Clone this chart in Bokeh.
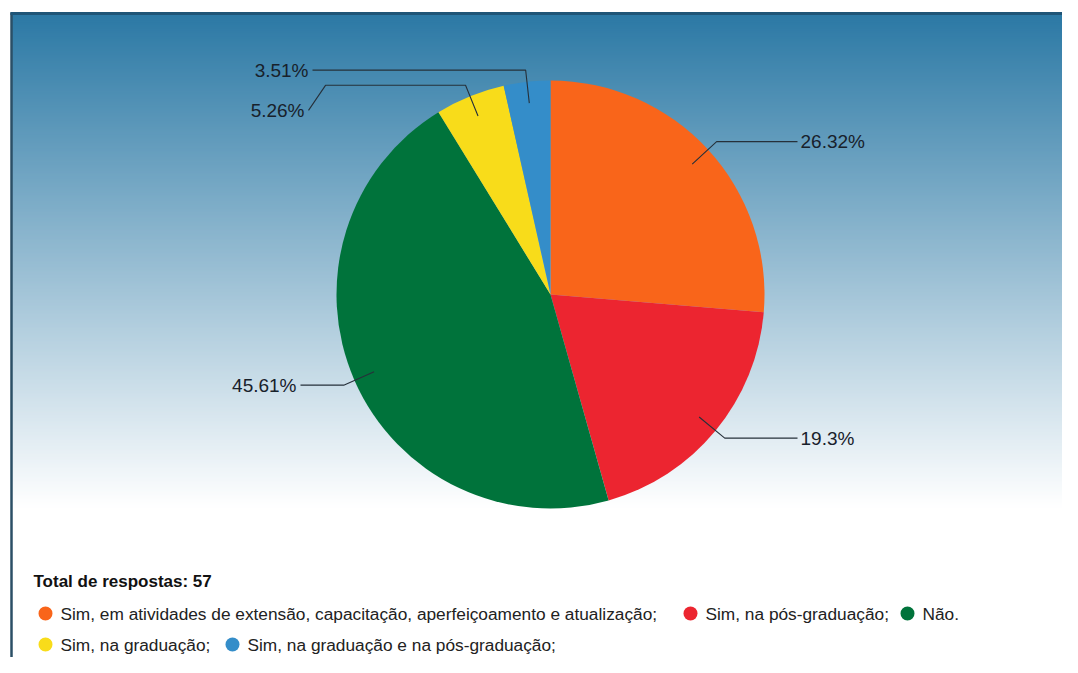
import math
from bokeh.plotting import figure
from bokeh.models import Range1d
from bokeh.core.properties import value
from bokeh.embed import file_html
from bokeh.resources import INLINE

# ---------------- DATA ----------------
categories = [
    "Sim, em atividades de extensão, capacitação, aperfeiçoamento e atualização;",
    "Sim, na pós-graduação;",
    "Não.",
    "Sim, na graduação;",
    "Sim, na graduação e na pós-graduação;",
]
percentages = [26.32, 19.3, 45.61, 5.26, 3.51]
total_responses = 57
colors = ["#F9651A", "#EC2530", "#00733B", "#F8DC1A", "#348DC9"]

# ---------------- LAYOUT ----------------
W, H = 1062, 657
OFF = 0
FONT = "Liberation Sans"


def X(sx):
    return sx - OFF


def Y(sy):
    return H - (sy - OFF)


cx, cy, r = X(550), Y(294), 214
# horizontal leader end offsets (from pie centre) and label drops
leader_end_dx = [247, 247, -250, -225, -238]
label_drop = [0, 0, 0, 25, 0]
legend_rows = [[0, 1, 2], [3, 4]]
legend_row_y = [613, 644]
legend_dot_x = [[45, 690, 907], [45, 232]]

p = figure(width=W, height=H, output_backend="svg", toolbar_location=None,
           x_range=Range1d(0, W), y_range=Range1d(0, H),
           x_axis_type=None, y_axis_type=None, min_border=0,
           outline_line_color=None, background_fill_color="white",
           border_fill_color="white")
p.grid.visible = False

# gradient background (decoration)
top_c = (44, 121, 165)
g0, g1 = 14, 506
tops, bots, cols = [], [], []
for sy in range(g0, g1, 2):
    f = (sy - g0) / (g1 - g0)
    c = tuple(int(round(a + (255 - a) * f)) for a in top_c)
    tops.append(Y(sy))
    bots.append(Y(sy + 3.5))
    cols.append("#%02x%02x%02x" % c)
p.quad(left=X(11), right=W + 5, top=tops, bottom=bots, fill_color=cols,
       line_color=None)
# frame
p.line(x=[X(11), X(11)], y=[Y(12), -5], line_color="#2b4f66", line_width=2.5)
p.line(x=[X(10), W + 5], y=[Y(13), Y(13)], line_color="#1f5577", line_width=3)

# pie
total = sum(percentages)
cum = 0.0
starts, ends, mids = [], [], []
for v in percentages:
    a0 = math.pi / 2 - 2 * math.pi * cum / total
    cum += v
    a1 = math.pi / 2 - 2 * math.pi * cum / total
    starts.append(a1)
    ends.append(a0)
    mids.append((a0 + a1) / 2)
p.wedge(x=cx, y=cy, radius=r, start_angle=starts, end_angle=ends,
        fill_color=colors, line_color=None)

# leader lines and labels
for i, v in enumerate(percentages):
    m = mids[i]
    x0, y0 = cx + 0.9 * r * math.cos(m), cy + 0.9 * r * math.sin(m)
    x1, y1 = cx + 1.055 * r * math.cos(m), cy + 1.055 * r * math.sin(m)
    x2 = cx + leader_end_dx[i]
    xs, ys = [x0, x1, x2], [y0, y1, y1]
    if label_drop[i]:
        xs.append(x2 - 17)
        ys.append(y1 - label_drop[i])
    p.line(x=xs, y=ys, line_color="#26303a", line_width=1.1)
    right = leader_end_dx[i] > 0
    lx = xs[-1] + (3 if right else -4)
    p.text(x=[lx], y=[ys[-1]], text=[f"{v:g}%"],
           text_font=value(FONT), text_font_size=value("19px"),
           text_color="#18212b", text_align="left" if right else "right",
           text_baseline="middle")

# legend
p.text(x=[X(33)], y=[Y(581)], text=[f"Total de respostas: {total_responses}"],
       text_font=value(FONT), text_font_size=value("17px"),
       text_font_style="bold", text_color="#111111",
       text_align="left", text_baseline="middle")
for row, ry, dxs in zip(legend_rows, legend_row_y, legend_dot_x):
    for idx, dx in zip(row, dxs):
        p.scatter(x=[X(dx)], y=[Y(ry)], size=14, marker="circle",
                  fill_color=colors[idx], line_color=None)
        p.text(x=[X(dx) + 15], y=[Y(ry)], text=[categories[idx]],
               text_font=value(FONT), text_font_size=value("17.3px"),
               text_color="#222222", text_align="left",
               text_baseline="middle")

open("out.html", "w").write(file_html(p, INLINE))
